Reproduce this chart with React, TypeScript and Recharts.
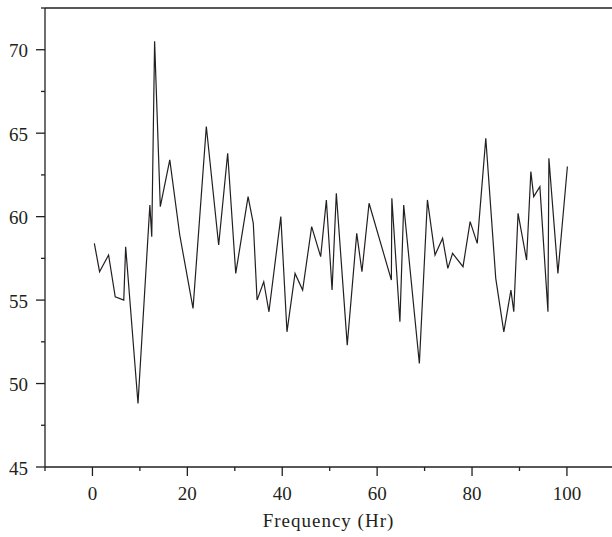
import { LineChart, Line, XAxis, YAxis, ReferenceLine, Label } from 'recharts';

const frequency = [
  0.4, 1.5, 3.4, 4.8, 6.6, 7.0, 9.6, 12.1, 12.5, 13.1,
  14.3, 16.3, 18.4, 21.2, 24.0, 26.6, 28.5, 30.2, 32.8, 33.9,
  34.7, 36.1, 37.2, 39.7, 41.0, 42.7, 44.3, 46.2, 48.1, 49.3,
  50.5, 51.4, 53.7, 55.7, 56.8, 58.3, 63.0, 63.1, 64.8, 65.6,
  68.9, 70.6, 72.2, 73.8, 74.9, 75.9, 78.1, 79.6, 81.1, 82.9,
  85.0, 86.7, 88.2, 88.8, 89.7, 91.5, 92.4, 93.0, 94.3, 96.0,
  96.2, 98.1, 100.1,
];
const values = [
  58.4, 56.7, 57.7, 55.2, 55.0, 58.2, 48.8, 60.7, 58.8, 70.5,
  60.6, 63.4, 58.9, 54.5, 65.4, 58.3, 63.8, 56.6, 61.2, 59.6,
  55.0, 56.1, 54.3, 60.0, 53.1, 56.6, 55.6, 59.4, 57.6, 61.0,
  55.6, 61.4, 52.3, 59.0, 56.7, 60.8, 56.2, 61.1, 53.7, 60.7,
  51.2, 61.0, 57.7, 58.7, 56.9, 57.8, 57.0, 59.7, 58.4, 64.7,
  56.3, 53.1, 55.6, 54.3, 60.2, 57.4, 62.7, 61.2, 61.8, 54.3,
  63.5, 56.6, 63.0,
];

const xTicks = [-10, 0, 10, 20, 30, 40, 50, 60, 70, 80, 90, 100];
const xMajor = [0, 20, 40, 60, 80, 100];
const yTicks = [45, 47.5, 50, 52.5, 55, 57.5, 60, 62.5, 65, 67.5, 70, 72.5];
const yMajor = [45, 50, 55, 60, 65, 70];

const INK = '#231f20';
const FONT = '"Liberation Serif", "Times New Roman", serif';

const data = frequency.map((f, i) => ({ f, v: values[i] }));

const XTick = ({ x, y, payload }: any) => {
  const major = xMajor.includes(payload.value);
  return (
    <g>
      <line x1={x} x2={x} y1={y} y2={y + (major ? 9 : 4)} stroke={INK} strokeWidth={1.3} />
      {major && (
        <text x={x} y={y + 33} textAnchor="middle" fontSize={19} fontFamily={FONT} fill={INK}>
          {payload.value}
        </text>
      )}
    </g>
  );
};

const YTick = ({ x, y, payload }: any) => {
  const major = yMajor.includes(payload.value);
  return (
    <g>
      <line x1={x - (major ? 9 : 4)} x2={x} y1={y} y2={y} stroke={INK} strokeWidth={1.3} />
      {major && (
        <text x={x - 17} y={y + 7.5} textAnchor="end" fontSize={19} fontFamily={FONT} fill={INK}>
          {payload.value}
        </text>
      )}
    </g>
  );
};

export default function App() {
  return (
    <div style={{ position: 'absolute', left: 0, top: 0, background: '#fff' }}>
      <LineChart width={612} height={537} data={data} margin={{ top: 8, right: 0, left: 0, bottom: 0 }}>
        <XAxis
          dataKey="f"
          type="number"
          domain={[-10, 109.5]}
          allowDataOverflow
          ticks={xTicks}
          interval={0}
          height={70}
          tickSize={0}
          tickMargin={0}
          tickLine={false}
          tick={<XTick />}
          axisLine={{ stroke: INK, strokeWidth: 1.3 }}
        >
          <Label
            value="Frequency (Hr)"
            position="insideBottom"
            offset={10}
            style={{ fontSize: 19, fontFamily: FONT, fill: INK, letterSpacing: 1 }}
          />
        </XAxis>
        <YAxis
          type="number"
          domain={[45, 72.5]}
          allowDataOverflow
          ticks={yTicks}
          interval={0}
          width={45}
          tickSize={0}
          tickMargin={0}
          tickLine={false}
          tick={<YTick />}
          axisLine={{ stroke: INK, strokeWidth: 1.3 }}
        />
        <ReferenceLine y={72.5} stroke={INK} strokeWidth={1.3} />
        <Line
          type="linear"
          dataKey="v"
          stroke={INK}
          strokeWidth={1.2}
          dot={false}
          isAnimationActive={false}
        />
      </LineChart>
    </div>
  );
}
